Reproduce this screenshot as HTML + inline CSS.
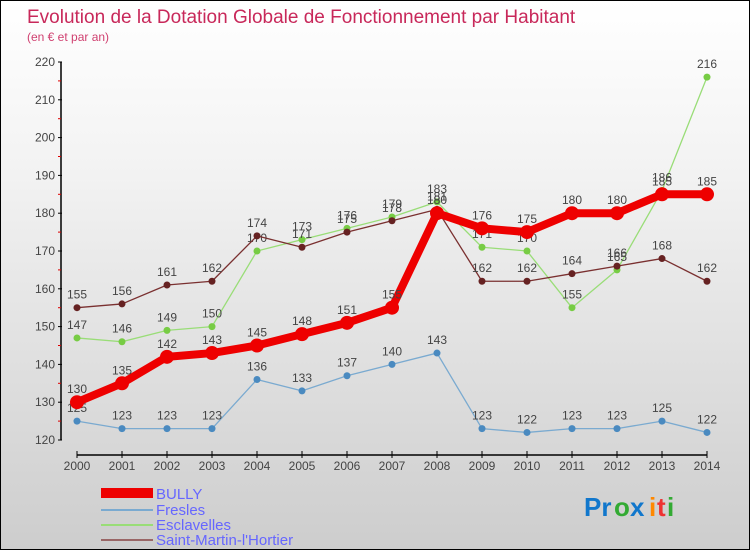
<!DOCTYPE html>
<html><head><meta charset="utf-8"><style>
body{margin:0}
#c{width:750px;height:550px;position:relative;overflow:hidden;box-sizing:border-box;border:1px solid #000;background:linear-gradient(#fff,#f3f3f3 30%,#cdcdcd);font-family:"Liberation Sans",sans-serif}
svg text{font-family:"Liberation Sans",sans-serif}
</style></head><body>
<div id="c">
<svg id="s" width="750" height="550">
<text x="26" y="22" font-size="19" fill="#c8285a">Evolution de la Dotation Globale de Fonctionnement par Habitant</text>
<text x="26" y="40" font-size="12" fill="#d04070">(en € et par an)</text>
<g id="axes"></g><g id="series"></g>
<g>
<rect x="100" y="487" width="52" height="10" fill="#e00"/>
<text x="155" y="498" font-size="15" fill="#6666ff">BULLY</text>
<line x1="100" y1="509" x2="152" y2="509" stroke="#7aaad0" stroke-width="2"/>
<text x="155" y="514" font-size="15" fill="#6666ff">Fresles</text>
<line x1="100" y1="524" x2="152" y2="524" stroke="#99dd77" stroke-width="2"/>
<text x="155" y="529" font-size="15" fill="#6666ff">Esclavelles</text>
<line x1="100" y1="539" x2="152" y2="539" stroke="#996666" stroke-width="2"/>
<text x="155" y="544" font-size="15" fill="#6666ff">Saint-Martin-l'Hortier</text>
</g>
<g font-size="26" font-weight="bold">
<text x="583" y="515" fill="#1177cc">Pr</text><text x="613" y="515" fill="#33aa33">o</text><text x="629" y="515" fill="#1177cc">x</text><text x="648" y="515" fill="#ff8800">i</text><text x="656" y="515" fill="#ee3333">t</text><text x="666" y="515" fill="#33aa33">i</text>
</g>
</svg></div>
<script>
const years=[2000,2001,2002,2003,2004,2005,2006,2007,2008,2009,2010,2011,2012,2013,2014];
const yTicks=[120,130,140,150,160,170,180,190,200,210,220];
const bully=[130,135,142,143,145,148,151,155,180,176,175,180,180,185,185];
const fresles=[125,123,123,123,136,133,137,140,143,123,122,123,123,125,122];
const esclavelles=[147,146,149,150,170,173,176,179,183,171,170,155,165,186,216];
const stmartin=[155,156,161,162,174,171,175,178,181,162,162,164,166,168,162];
const NS='http://www.w3.org/2000/svg';
const X=i=>76+i*45;
const Y=v=>439-(v-120)*3.78;
function mk(t,a,p){const e=document.createElementNS(NS,t);for(const k in a)e.setAttribute(k,a[k]);p.appendChild(e);return e;}
const ax=document.getElementById('axes'),se=document.getElementById('series');
let l=mk('line',{x1:60,y1:Y(220),x2:60,y2:Y(120),stroke:'#000','stroke-width':1.5},ax);


yTicks.forEach(v=>{
 let t=mk('line',{x1:57,y1:Y(v),x2:61,y2:Y(v),stroke:'#000'},ax);
 
 
 let m=mk('line',{x1:57,y1:Y(v+5),x2:60,y2:Y(v+5),stroke:'#d00'},ax);
 if(v===220)m.remove();
 let tx=mk('text',{x:54,y:Y(v)+4,'text-anchor':'end','font-size':12,fill:'#444'},ax);
 tx.textContent=v;
 
 
});
l=mk('line',{x1:X(0),y1:454,x2:X(14),y2:454,stroke:'#000','stroke-width':1.5},ax);


years.forEach((y,i)=>{
 let t=mk('line',{x1:X(i),y1:450,x2:X(i),y2:457,stroke:'#000'},ax);
 
 
 let tx=mk('text',{x:X(i),y:469,'text-anchor':'middle','font-size':12,fill:'#444'},ax);
 tx.textContent=y;
 
 
});
function series(d,name,color,dot,w,r){
 const g=mk('g',{},se);
 
 
 const pl=mk('polyline',{points:d.map((v,i)=>X(i)+','+Y(v)).join(' '),fill:'none',stroke:color,'stroke-width':w,'stroke-linejoin':'round'},g);
 
 
 d.forEach((v,i)=>{
  const c=mk('circle',{cx:X(i),cy:Y(v),r:r,fill:dot},g);
  
  
  const t=mk('text',{x:X(i),y:Y(v)-9,'text-anchor':'middle','font-size':12,fill:'#444'},g);
  t.textContent=v;
  
  
 });
}
series(fresles,'fresles','#7aaad0','#4a8ac0',1.3,3.5);
series(esclavelles,'esclavelles','#99dd77','#77cc44',1.3,3.5);
series(stmartin,'saint-martin','#7a3030','#662222',1.3,3.5);
series(bully,'bully','#ee0000','#ee0000',8,7);
</script>
</body></html>
